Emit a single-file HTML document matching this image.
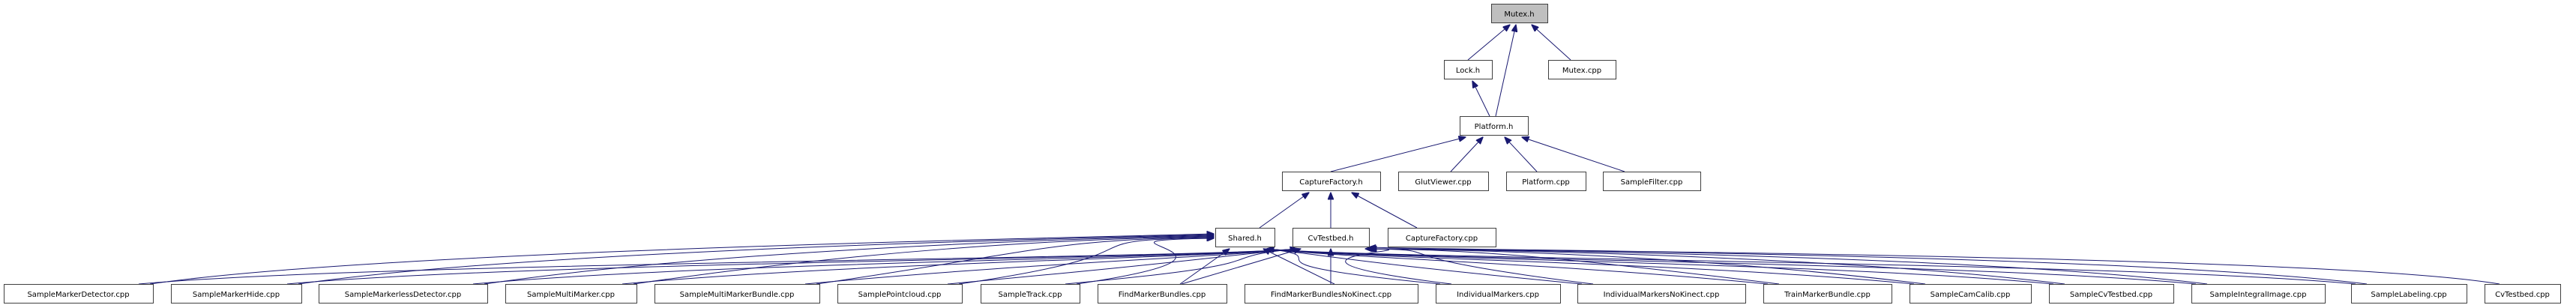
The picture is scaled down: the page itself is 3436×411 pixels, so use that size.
<!DOCTYPE html>
<html><head><meta charset="utf-8"><style>
html,body{margin:0;padding:0;background:#fff}
svg{display:block}
text{font-family:"DejaVu Sans","Liberation Sans",sans-serif;font-size:10px;fill:#000}
.n{fill:#fff;stroke:#404040;stroke-width:1}
.e{fill:none;stroke:#191970;stroke-width:1}
</style></head><body>
<svg width="3436" height="411" viewBox="0 0 3436 411" xmlns="http://www.w3.org/2000/svg">
<defs><marker id="a" markerWidth="10" markerHeight="8" refX="9.5" refY="4" orient="auto" markerUnits="userSpaceOnUse"><path d="M0,0L10,4L0,8z" fill="#191970" stroke="#191970"/></marker></defs>
<g id="edges"></g>
<g id="nodes"></g>
<script>
var N=[
["Mutex.h",1989,5,2064,1],["Lock.h",1926,80,1990],["Mutex.cpp",2065,80,2155],
["Platform.h",1947,155,2038],
["CaptureFactory.h",1710,229,1841],["GlutViewer.cpp",1865,229,1985],["Platform.cpp",2009,229,2115],["SampleFilter.cpp",2138,229,2268],
["Shared.h",1621,304,1700],["CvTestbed.h",1724,304,1826],["CaptureFactory.cpp",1851,304,1995]];
var B=[["SampleMarkerDetector.cpp",5,204],["SampleMarkerHide.cpp",228,402],["SampleMarkerlessDetector.cpp",425,650],["SampleMultiMarker.cpp",674,849],["SampleMultiMarkerBundle.cpp",873,1093],["SamplePointcloud.cpp",1117,1283],["SampleTrack.cpp",1308,1440],["FindMarkerBundles.cpp",1464,1636],["FindMarkerBundlesNoKinect.cpp",1660,1891],["IndividualMarkers.cpp",1915,2081],["IndividualMarkersNoKinect.cpp",2104,2328],["TrainMarkerBundle.cpp",2352,2523],["SampleCamCalib.cpp",2547,2709],["SampleCvTestbed.cpp",2733,2899],["SampleIntegralImage.cpp",2923,3101],["SampleLabeling.cpp",3136,3290],["CvTestbed.cpp",3314,3415]];
B.forEach(function(b){N.push([b[0],b[1],379,b[2]]);});
var ns="http://www.w3.org/2000/svg",g=document.getElementById("nodes"),ge=document.getElementById("edges");
N.forEach(function(n){var r=document.createElementNS(ns,"rect");r.setAttribute("x",n[1]+.5);r.setAttribute("y",n[2]+.5);r.setAttribute("width",n[3]-n[1]);r.setAttribute("height",25);r.setAttribute("class","n");if(n[4])r.style.fill="#bfbfbf";g.appendChild(r);
var t=document.createElementNS(ns,"text");t.setAttribute("x",(n[1]+n[3])/2);t.setAttribute("y",n[2]+17);t.setAttribute("text-anchor","middle");t.textContent=n[0];g.appendChild(t);});
function E(d){var p=document.createElementNS(ns,"path");p.setAttribute("d",d);p.setAttribute("class","e");p.setAttribute("marker-end","url(#a)");ge.appendChild(p);}
function L(x1,y1,x2,y2){E("M"+x1+","+y1+"L"+x2+","+y2);}
L(1958,80,2014,33);L(1995,155,2022,33);L(2095,80,2043,33);L(1987,155,1964,108);
L(1775,229,1955,183);L(1935,229,1978,183);L(2050,229,2007,183);L(2167,229,2030,183);
L(1680,304,1746,257);L(1775,304,1775,257);L(1890,304,1803,257);
B.forEach(function(b,i){
 var x1=b[1],x2=b[2];
 if(i<7){var sx=x2-4;
  E("M"+sx+",379C"+(sx+300)+",335 1400,"+(318+i*0.5)+" 1619,"+(312+i));
  E("M"+(sx-15)+",379C"+(sx+300)+",350 1600,345 1730,332");
 } else if(i==7){L(x1+110,379,1640,332);L(x2-60,379,1735,332);}
 else if(i==8){L(x1+120,379,1685,332);L(1775,379,1775,332);}
 else if(i<16){var sx=x1+6;
  E("M"+sx+",379C"+(sx-300)+",350 1800,345 1690,332");
  E("M"+(sx+15)+",379C"+(sx-300)+",340 1950,"+(335-i*0.2)+" "+(1812+i)+",332");
 } else {E("M"+(x1+20)+",379C3100,340 2000,335 1826,330");}
});
</script>
</svg>
</body></html>
